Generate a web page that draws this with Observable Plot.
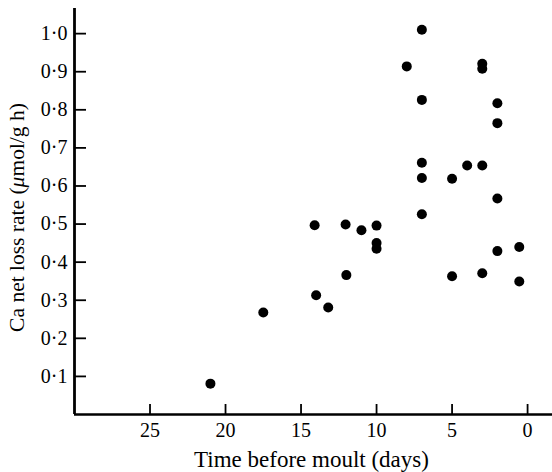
<!DOCTYPE html>
<html>
<head>
<meta charset="utf-8">
<script src="https://cdn.jsdelivr.net/npm/d3@7"></script>
<script src="https://cdn.jsdelivr.net/npm/@observablehq/plot@0.6"></script>
<style>
  html, body { margin: 0; padding: 0; background: #fff; }
  .ytitle { opacity: 0.995; }
</style>
</head>
<body>
<div id="chart"></div>
<script>
// Time before moult (days)
const days = [21, 17.5, 14.1, 14.0, 13.2, 12.05, 12.0, 11.0, 10.0, 10.0, 10.0, 8.0,
  7.0, 7.0, 7.0, 7.0, 7.0, 5.0, 5.0, 4.0, 3.0, 3.0, 3.0, 3.0,
  2.0, 2.0, 2.0, 2.0, 0.55, 0.55];
// Ca net loss rate (umol/g h)
const rates = [0.081, 0.268, 0.497, 0.313, 0.281, 0.499, 0.366, 0.484, 0.496, 0.450, 0.435, 0.914,
  1.010, 0.826, 0.661, 0.621, 0.526, 0.619, 0.363, 0.654, 0.921, 0.908, 0.654, 0.371,
  0.817, 0.765, 0.567, 0.429, 0.440, 0.349];
const xTicks = [25, 20, 15, 10, 5, 0];
const yTicks = [0.1, 0.2, 0.3, 0.4, 0.5, 0.6, 0.7, 0.8, 0.9, 1.0];
const xTitle = "Time before moult (days)";
const yTitle = "Ca net loss rate (μmol/g h)";

const points = days.map((d, i) => ({ day: d, rate: rates[i] }));

const W = 552, H = 472;
const mL = 74, mR = 0, mT = 8, mB = 58;
const frameW = W - mL - mR, frameH = H - mT - mB;
const serif = "'Liberation Serif', 'DejaVu Serif', serif";

const chart = Plot.plot({
  width: W,
  height: H,
  marginLeft: mL,
  marginRight: mR,
  marginTop: mT,
  marginBottom: mB,
  style: { fontFamily: serif, background: "#fff", color: "#000" },
  x: { domain: [30, -1.65], axis: null },
  y: { domain: [0, 1.066], axis: null },
  marks: [
    Plot.axisX({ ticks: xTicks, tickSize: 0, tickPadding: 8, fontSize: 20, label: null, tickFormat: d => String(d) }),
    Plot.axisY({ ticks: yTicks, tickSize: 0, tickPadding: 7, fontSize: 20, label: null,
      tickFormat: d => d.toFixed(1).replace(".", "·") }),
    Plot.tickX(xTicks, { x: d => d, insetTop: frameH - 10, stroke: "#000", strokeWidth: 1.8 }),
    Plot.tickY(yTicks, { y: d => d, insetRight: frameW - 12, stroke: "#000", strokeWidth: 1.8 }),
    Plot.ruleY([0], { stroke: "#000", strokeWidth: 2.5 }),
    Plot.ruleX([30], { stroke: "#000", strokeWidth: 2.8 }),
    Plot.dot(points, { x: "day", y: "rate", r: 5, fill: "#000", stroke: null }),
    Plot.text([xTitle], { frameAnchor: "bottom", dx: -2, dy: 45, fontSize: 23, textAnchor: "middle", lineAnchor: "middle", fill: "#000" }),
    Plot.text([yTitle], { frameAnchor: "left", dx: -57, dy: 6, rotate: -90, fontSize: 21.5, textAnchor: "middle", lineAnchor: "middle", fill: "#000", className: "ytitle" })
  ]
});
document.getElementById("chart").appendChild(chart);

// italic mu in the y title
d3.select(chart).selectAll(".ytitle text").each(function () {
  const t = d3.select(this);
  const s = t.text();
  const i = s.indexOf("μ");
  if (i < 0) return;
  t.text(null);
  t.append("tspan").text(s.slice(0, i));
  t.append("tspan").attr("font-style", "italic").text("μ");
  t.append("tspan").text(s.slice(i + 1));
});
</script>
</body>
</html>
